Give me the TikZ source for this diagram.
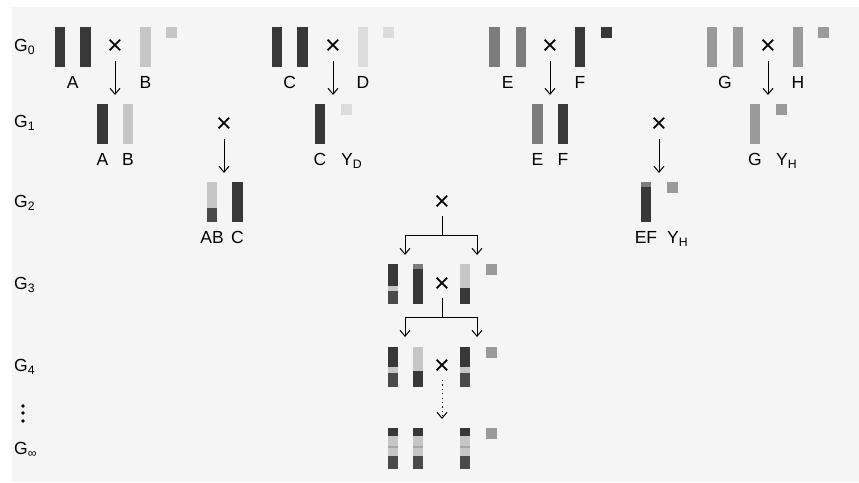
\documentclass[tikz,border=0pt]{standalone}
\usepackage{fontspec}
\setmainfont{Liberation Sans}
\usetikzlibrary{arrows.meta,positioning,calc}

\definecolor{bgray}{HTML}{F5F5F5}
\definecolor{cdark}{HTML}{383838}
\definecolor{cdarkb}{HTML}{4A4A4A}
\definecolor{cmid}{HTML}{7C7C7C}
\definecolor{cgmid}{HTML}{9A9A9A}
\definecolor{clight}{HTML}{C6C6C6}
\definecolor{cpale}{HTML}{DCDCDC}

\tikzset{chrom/.style={rectangle,inner sep=0pt,minimum width=10.5pt,
                       minimum height=40pt}}
\tikzset{ysq/.style={rectangle,inner sep=0pt,minimum size=10.5pt,anchor=north west}}
\tikzset{lab/.style={font=\fontsize{17.5}{20}\selectfont,inner sep=0pt}}
\tikzset{gen/.style={lab,anchor=west}}
\tikzset{cross/.style={font=\fontsize{27}{27}\selectfont,inner sep=0pt}}
\tikzset{down/.style={line width=1pt,-{Straight Barb[length=6pt,width=10pt]}}}
\tikzset{trunk/.style={line width=1pt}}
\newcommand{\ys}[1]{Y\textsubscript{#1}}

\begin{document}
\begin{tikzpicture}[x=1pt,y=-1pt]
        \useasboundingbox (0,0) rectangle (859,482);
        \fill[bgray] (12,7) rectangle (859,482);
        % generation labels
        \foreach \g/\y [count=\gi] in {0/47,1/123,2/203,3/285,4/367,∞/450}{%
              \node[gen] (g\gi) at (14,\y) {G\textsubscript{\g}};
            }
        \foreach \y [count=\di] in {406,413,421}{%
              \fill (23,\y) circle (1.9pt);
            }
        % G0 parents
        \foreach \x/\c/\n in {60/cdark/a1,85.5/cdark/a2,145.5/clight/b1,
                              277/cdark/c1,302.5/cdark/c2,363/cpale/d1,
                              494.5/cmid/e1,521/cmid/e2,580/cdark/f1,
                              712/cgmid/g1,738/cgmid/g2,798/cgmid/hh1}{%
              \node[chrom,fill=\c] (\n) at (\x,47) {};
            }
        \foreach \x/\c/\n in {166/clight/yb,383/cpale/yd,601/cdark/yf,818/cgmid/yh}{%
              \node[ysq,fill=\c] (\n) at (\x,27) {};
            }
        \coordinate (pa) at ($(a1.south)!0.5!(a2.south)$);
        \coordinate (pc) at ($(c1.south)!0.5!(c2.south)$);
        \coordinate (pe) at ($(e1.south)!0.5!(e2.south)$);
        \coordinate (pg) at ($(g1.south)!0.5!(g2.south)$);
        \node[lab,below=9pt of pa] (la) {A};
        \node[lab,below=9pt of b1] (lb) {B};
        \node[lab,below=9pt of pc] (lc) {C};
        \node[lab,below=9pt of d1] (ld) {D};
        \node[lab,below=9pt of pe] (le) {E};
        \node[lab,below=9pt of f1] (lf) {F};
        \node[lab,below=9pt of pg] (lg) {G};
        \node[lab,below=9pt of hh1] (lh) {H};
        % G0 crosses
        \foreach \x [count=\xi] in {115,333,550,768}{%
              \node[cross] (x0\xi) at (\x,47) {×};
              \coordinate (s0\xi) at (\x,61);
              \coordinate (t0\xi) at (\x,95);
              \draw[down] (s0\xi) -- (t0\xi);
            }
        % G1
        \node[chrom,fill=cdark] (ga) at (102.5,124) {};
        \node[chrom,fill=clight] (gb) at (128,124) {};
        \node[chrom,fill=cdark] (gc) at (320,124) {};
        \node[ysq,fill=cpale] (gyd) at (341,104) {};
        \node[chrom,fill=cmid] (ge) at (537.5,124) {};
        \node[chrom,fill=cdark] (gf) at (563,124) {};
        \node[chrom,fill=cgmid] (gg) at (755,124) {};
        \node[ysq,fill=cgmid] (gyh) at (776,104) {};
        \foreach \n/\t in {ga/A,gb/B,gc/C,ge/E,gf/F,gg/G}{%
              \node[lab,below=9pt of \n] (l\n) {\t};
            }
        \node[lab,anchor=north west] (lgyd) at (gyd.west |- lgc.north) {\ys{D}};
        \node[lab,anchor=north west] (lgyh) at (gyh.west |- lgg.north) {\ys{H}};
        \foreach \x [count=\xi] in {224,659}{%
              \node[cross] (x1\xi) at (\x,125) {×};
              \coordinate (s1\xi) at (\x,139);
              \coordinate (t1\xi) at (\x,173);
              \draw[down] (s1\xi) -- (t1\xi);
            }
        % G2
        \node[chrom,fill=cdarkb] (hab) at (212,202) {};
        \fill[clight] (hab.north west) rectangle ([yshift=-26pt]hab.north east);
        \node[chrom,fill=cdark] (hc) at (237.5,202) {};
        \node[chrom,fill=cdark] (hef) at (646,202) {};
        \fill[cmid] (hef.north west) rectangle ([yshift=-5pt]hef.north east);
        \node[ysq,fill=cgmid] (hyh) at (667,182) {};
        \node[lab,below=9pt of hab] (lhab) {AB};
        \node[lab,below=9pt of hc] (lhc) {C};
        \node[lab,below=9pt of hef] (lhef) {EF};
        \node[lab,anchor=north west] (lhyh) at (hyh.west |- lhef.north) {\ys{H}};
        \node[cross] (x2) at (442,203) {×};
        \coordinate (s2) at (442,216);
        \coordinate (j2) at (442,235);
        \coordinate (t2l) at (405,255);
        \coordinate (t2r) at (477,255);
        \draw[trunk] (s2) -- (j2);
        \draw[down] (j2) -| (t2l);
        \draw[down] (j2) -| (t2r);
        % G3
        \node[chrom,fill=cdarkb] (i1) at (393,284) {};
        \fill[cdark] (i1.north west) rectangle ([yshift=-22pt]i1.north east);
        \fill[clight] ([yshift=-22pt]i1.north west) rectangle ([yshift=-27pt]i1.north east);
        \node[chrom,fill=cdark] (i2) at (418,284) {};
        \fill[cmid] (i2.north west) rectangle ([yshift=-5pt]i2.north east);
        \node[chrom,fill=cdark] (i3) at (465,284) {};
        \fill[clight] (i3.north west) rectangle ([yshift=-24pt]i3.north east);
        \node[ysq,fill=cgmid] (iy) at (486,264) {};
        \node[cross] (x3) at (442,285) {×};
        \coordinate (s3) at (442,298);
        \coordinate (j3) at (442,317);
        \coordinate (t3l) at (405,337);
        \coordinate (t3r) at (477,337);
        \draw[trunk] (s3) -- (j3);
        \draw[down] (j3) -| (t3l);
        \draw[down] (j3) -| (t3r);
        % G4
        \foreach \x/\n in {393/k1,465/k3}{%
              \node[chrom,fill=cdarkb] (\n) at (\x,367) {};
              \fill[cdark] (\n.north west) rectangle ([yshift=-20pt]\n.north east);
              \fill[clight] ([yshift=-20pt]\n.north west) rectangle ([yshift=-26pt]\n.north east);
            }
        \node[chrom,fill=cdark] (k2) at (418,367) {};
        \fill[clight] (k2.north west) rectangle ([yshift=-24pt]k2.north east);
        \node[ysq,fill=cgmid] (ky) at (486,347) {};
        \node[cross] (x4) at (442,367) {×};
        \coordinate (s4) at (442,380);
        \coordinate (t4) at (442,419);
        \draw[down,dash pattern=on 1.2pt off 3.2pt] (s4) -- (t4);
        % G infinity
        \foreach \x/\n in {393/m1,418/m2,465/m3}{%
              \node[chrom,fill=cdarkb] (\n) at (\x,448.5) {};
              \fill[cdark] (\n.north west) rectangle ([yshift=-8pt]\n.north east);
              \fill[clight] ([yshift=-8pt]\n.north west) rectangle ([yshift=-28pt]\n.north east);
              \fill[cgmid!70!clight] ([yshift=-18pt]\n.north west) rectangle ([yshift=-20pt]\n.north east);
            }
        \node[ysq,fill=cgmid] (my) at (486,428) {};
    \end{tikzpicture}
\end{document}
